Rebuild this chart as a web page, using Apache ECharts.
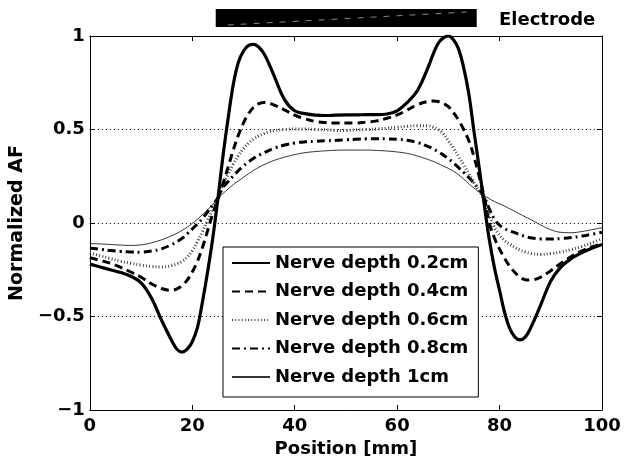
<!DOCTYPE html>
<html><head><meta charset="utf-8">
<script src="https://cdn.jsdelivr.net/npm/echarts@6/dist/echarts.min.js"></script>
<style>html,body{margin:0;padding:0;background:#fff}#c{width:630px;height:463px}</style>
</head><body><div id="c"></div>
<script>
// Position along the electrode axis [mm]
const positions = [0,2,4,6,8,10,12,14,16,
  17,18,19,20,21,22,23,24,25,26,27,28,29,30,31,32,33,34,35,36,
  38,40,42,44,46,48,50,52,54,56,58,60,62,64,66,
  67,68,69,70,71,72,73,74,75,76,77,78,79,80,81,82,83,84,85,86,
  88,90,92,94,96,98,100];

const depth02 = [-0.22,-0.235,-0.25,-0.265,-0.285,-0.32,-0.40,-0.52,-0.63,
  -0.675,-0.69,-0.675,-0.635,-0.56,-0.42,-0.26,-0.08,0.13,0.36,0.56,0.74,0.86,0.92,0.95,0.955,0.94,0.905,0.85,0.785,
  0.66,0.60,0.585,0.577,0.575,0.577,0.578,0.578,0.58,0.58,0.583,0.60,0.645,0.71,0.83,
  0.90,0.96,0.99,1.0,0.98,0.93,0.83,0.69,0.49,0.30,0.10,-0.09,-0.24,-0.36,-0.48,-0.565,-0.61,-0.625,-0.61,-0.565,
  -0.44,-0.31,-0.235,-0.19,-0.16,-0.135,-0.115];

const depth04 = [-0.185,-0.20,-0.215,-0.237,-0.262,-0.29,-0.325,-0.35,-0.36,
  -0.352,-0.335,-0.305,-0.262,-0.205,-0.13,-0.04,0.05,0.13,0.21,0.30,0.39,0.47,0.535,0.585,0.62,0.638,0.645,0.64,0.63,
  0.605,0.577,0.557,0.543,0.537,0.535,0.535,0.535,0.54,0.546,0.56,0.578,0.605,0.633,0.65,
  0.653,0.65,0.64,0.622,0.59,0.55,0.50,0.44,0.355,0.25,0.14,0.0,-0.08,-0.14,-0.19,-0.232,-0.265,-0.29,-0.303,-0.305,
  -0.29,-0.255,-0.215,-0.18,-0.15,-0.128,-0.11];

const depth06 = [-0.16,-0.175,-0.19,-0.205,-0.215,-0.225,-0.232,-0.235,-0.228,
  -0.218,-0.205,-0.182,-0.148,-0.10,-0.045,0.015,0.075,0.13,0.205,0.262,0.315,0.36,0.398,0.428,0.45,0.466,0.478,0.488,0.494,
  0.50,0.503,0.503,0.50,0.498,0.495,0.495,0.498,0.50,0.503,0.507,0.512,0.517,0.52,0.52,
  0.513,0.50,0.478,0.44,0.40,0.355,0.31,0.262,0.215,0.17,0.125,0.04,-0.025,-0.065,-0.095,-0.113,-0.13,-0.145,-0.155,-0.162,
  -0.168,-0.163,-0.155,-0.142,-0.126,-0.106,-0.085];

const depth08 = [-0.135,-0.14,-0.147,-0.152,-0.155,-0.156,-0.15,-0.138,-0.115,
  -0.10,-0.082,-0.058,-0.032,-0.005,0.025,0.06,0.097,0.133,0.19,0.222,0.252,0.28,0.305,0.327,0.346,0.362,0.376,0.389,0.40,
  0.417,0.428,0.434,0.437,0.44,0.442,0.445,0.448,0.45,0.451,0.45,0.448,0.442,0.43,0.41,
  0.397,0.382,0.364,0.344,0.321,0.296,0.27,0.243,0.213,0.18,0.14,0.075,0.02,-0.012,-0.03,-0.042,-0.052,-0.063,-0.072,-0.079,
  -0.085,-0.086,-0.083,-0.078,-0.07,-0.06,-0.05];

const depth10 = [-0.11,-0.112,-0.115,-0.118,-0.12,-0.117,-0.106,-0.09,-0.068,
  -0.055,-0.04,-0.022,-0.002,0.02,0.045,0.07,0.1,0.13,0.158,0.182,0.205,0.225,0.245,0.264,0.282,0.298,0.312,0.324,0.335,
  0.352,0.366,0.376,0.382,0.386,0.389,0.39,0.39,0.39,0.388,0.385,0.38,0.372,0.358,0.34,
  0.33,0.318,0.305,0.292,0.277,0.258,0.235,0.21,0.187,0.166,0.147,0.13,0.115,0.102,0.09,0.076,0.062,0.047,0.033,0.02,
  -0.01,-0.036,-0.05,-0.052,-0.046,-0.036,-0.025];

const seriesNames = ['Nerve depth 0.2cm','Nerve depth 0.4cm','Nerve depth 0.6cm','Nerve depth 0.8cm','Nerve depth 1cm'];
const electrode = [26, 76];   // electrode extent [mm]
const electrodeLabel = 'Electrode';
const xAxisName = 'Position [mm]';
const yAxisName = 'Normalized AF';

const F = '"DejaVu Sans", sans-serif';
const lbl = {fontFamily: F, fontWeight: 'bold', fontSize: 18, color: '#000'};
const axLine = {show: true, onZero: false, lineStyle: {color: '#000', width: 1}};
const tick = {show: true, inside: true, length: 5, lineStyle: {color: '#000', width: 1}};

const pair = arr => positions.map((x, i) => [x, arr[i]]);
const styles = [
  {color: '#000', width: 3.2, type: 'solid'},
  {color: '#000', width: 3, type: [8, 5]},
  {color: '#444', width: 3, type: [1, 2.2]},
  {color: '#000', width: 3, type: [8, 4, 2, 4]},
  {color: '#333', width: 1, type: 'solid'}
];
const datas = [depth02, depth04, depth06, depth08, depth10];

const lineSeries = datas.map((d, i) => ({
  name: seriesNames[i], type: 'line', xAxisIndex: 0, yAxisIndex: 0,
  data: pair(d), symbol: 'none', smooth: 0.4,
  lineStyle: styles[i], itemStyle: {color: styles[i].color}, z: 10 - i
}));

const chart = echarts.init(document.getElementById('c'), null, {renderer: 'canvas'});
chart.setOption({
  animation: false,
  backgroundColor: '#fff',
  grid: [
    {left: 80, right: 28, top: 36, bottom: 48},
    {left: 80, right: 28, top: 9, height: 18}
  ],
  xAxis: [
    {gridIndex: 0, type: 'value', min: 0, max: 100, interval: 20, position: 'bottom',
     axisLine: axLine, axisTick: tick, axisLabel: Object.assign({}, lbl, {margin: 7}),
     splitLine: {show: false}, name: xAxisName, nameLocation: 'middle', nameGap: 30, nameTextStyle: lbl},
    {gridIndex: 0, type: 'value', min: 0, max: 100, interval: 20, position: 'top',
     axisLine: axLine, axisTick: tick, axisLabel: {show: false}, splitLine: {show: false}},
    {gridIndex: 1, type: 'value', min: 0, max: 100, show: false}
  ],
  yAxis: [
    {gridIndex: 0, type: 'value', min: -1, max: 1, interval: 0.5, position: 'left',
     axisLine: axLine, axisTick: tick,
     axisLabel: Object.assign({}, lbl, {margin: 5, formatter: v => String(v).replace('-', '\u2212')}),
     splitLine: {show: true, lineStyle: {color: '#000', width: 1, type: [1, 3]}},
     name: yAxisName, nameLocation: 'middle', nameGap: 40, nameRotate: 90,
     nameTextStyle: Object.assign({}, lbl, {fontSize: 19})},
    {gridIndex: 0, type: 'value', min: -1, max: 1, interval: 0.5, position: 'right',
     axisLine: axLine, axisTick: tick, axisLabel: {show: false}, splitLine: {show: false}},
    {gridIndex: 1, type: 'value', min: 0, max: 1, show: false}
  ],
  legend: {
    orient: 'vertical', left: 223, top: 247, padding: [6, 10, 10, 8],
    itemWidth: 38, itemHeight: 14, itemGap: 8.5,
    backgroundColor: '#fff', borderColor: '#000', borderWidth: 1, borderRadius: 0,
    itemStyle: {color: 'rgba(0,0,0,0)', borderColor: 'rgba(0,0,0,0)', borderWidth: 0},
    textStyle: Object.assign({}, lbl, {lineHeight: 20}),
    data: seriesNames, selectedMode: false
  },
  graphic: [
    {type: 'text', left: 499, top: 11, style: {text: electrodeLabel, font: 'bold 18px ' + F, fill: '#000'}}
  ],
  series: lineSeries.concat([{
    type: 'custom', xAxisIndex: 2, yAxisIndex: 2, silent: true, clip: false,
    data: [electrode],
    renderItem: (params, api) => {
      const p0 = api.coord([api.value(0), 1]);
      const p1 = api.coord([api.value(1), 0]);
      return {type: 'group', children: [
        {type: 'rect', shape: {x: p0[0], y: p0[1], width: p1[0] - p0[0], height: p1[1] - p0[1]}, style: {fill: '#000'}},
        {type: 'line', shape: {x1: p0[0] + 12, y1: p1[1] - 2, x2: p1[0] - 10, y2: p0[1] + 3},
         style: {stroke: '#8a8a8a', lineWidth: 1, lineDash: [6, 7]}}
      ]};
    }
  }])
});
</script></body></html>
